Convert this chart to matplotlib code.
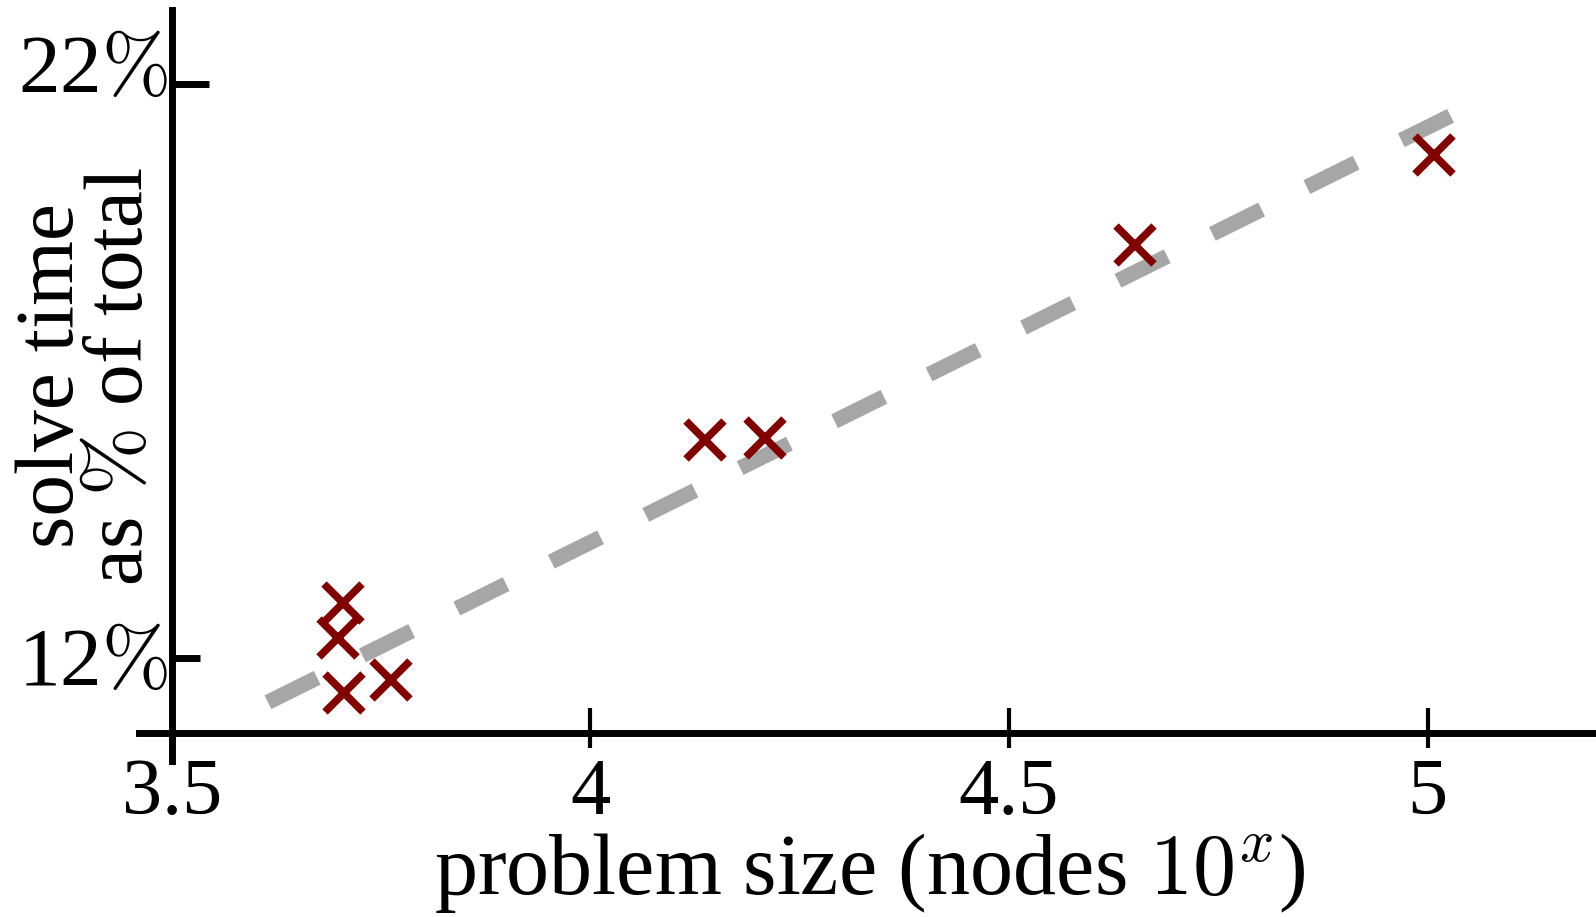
import matplotlib
matplotlib.use("Agg")
import matplotlib.pyplot as plt
from matplotlib.ticker import FixedLocator

plt.rcParams['font.family'] = ['Liberation Serif', 'DejaVu Serif']
plt.rcParams['mathtext.fontset'] = 'cm'

# ---- data ----
problem_size = [3.705, 3.699, 3.706, 3.762, 4.137, 4.208, 4.651, 5.008]
solve_pct = [12.96, 12.35, 11.39, 11.62, 15.80, 15.83, 19.20, 20.76]
fit_x = [3.615, 5.039]
fit_y = [11.23, 21.53]
x_ticks = [3.5, 4, 4.5, 5]
x_tick_labels = ['3.5', '4', '4.5', '5']
y_ticks = [12, 22]
y_tick_labels = ['12$\\%$', '22$\\%$']
x_label = 'problem size (nodes $10^x$)'
y_label = 'solve time\nas $\\%$ of total'

W, H = 1596, 917
fig = plt.figure(figsize=(W / 100, H / 100), dpi=100)
ax = fig.add_axes([139 / W, 156 / H, (W - 139) / W, 751 / H])

ax.plot(fit_x, fit_y, color='#a6a6a6', lw=11, dashes=(3.6, 3.3),
        dash_capstyle='butt', solid_capstyle='butt', zorder=2)
ax.plot(problem_size, solve_pct, linestyle='none', marker='x', ms=27, mew=5.5,
        color='#800000', zorder=3)

ax.set_xlim(3.461, 5.201)
ax.set_ylim(10.206, 23.289)

for s in ['top', 'right']:
    ax.spines[s].set_visible(False)
ax.spines['left'].set_position(('data', 3.5))
ax.spines['bottom'].set_position(('data', 10.693))
ax.spines['left'].set_linewidth(5)
ax.spines['bottom'].set_linewidth(5)

# x ticks: "in" part as major, "out" part as minor at same locations
ax.set_xticks(x_ticks, x_tick_labels)
ax.xaxis.remove_overlapping_locs = False
ax.xaxis.set_minor_locator(FixedLocator(x_ticks))
ax.tick_params(axis='x', which='major', direction='in', length=18, width=3,
               pad=18, labelsize=58)
ax.tick_params(axis='x', which='minor', direction='out', length=11, width=3)

# y ticks
ax.set_yticks(y_ticks)
ax.tick_params(axis='y', which='major', direction='in', width=5, length=20,
               labelleft=False)
yt = ax.yaxis.get_major_ticks()
yt[0].tick1line.set_markersize(20)
yt[1].tick1line.set_markersize(26.6)

label_offsets = [-27, -8]
for v, lab, dy in zip(y_ticks, y_tick_labels, label_offsets):
    ax.annotate(lab, xy=(3.5, v), xycoords='data', xytext=(-4, dy),
                textcoords='offset pixels', ha='right', va='baseline',
                fontsize=60, annotation_clip=False)

fig.text(870 / W, (H - 894) / H, x_label, ha='center', va='baseline', fontsize=62)
fig.text(88 / W, 1 - 376 / H, y_label, rotation=90, ha='center', va='center',
         multialignment='center', linespacing=0.88, fontsize=60)

fig.savefig('out.png', dpi=100)
